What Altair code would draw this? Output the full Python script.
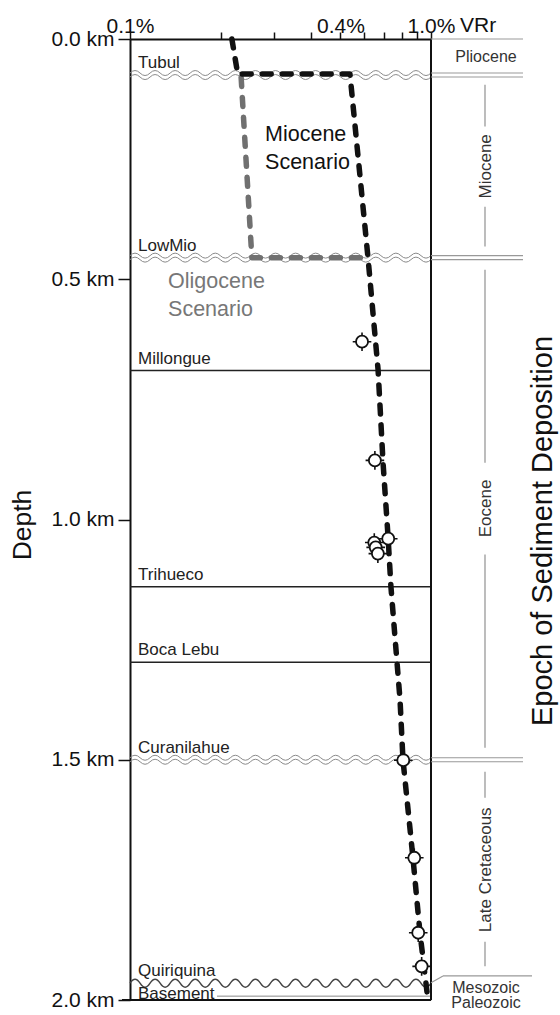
import altair as alt
import pandas as pd

# ---------------- data ----------------
x_tick_values = [0.1, 0.2, 0.3, 0.4, 0.5, 0.6, 0.7, 0.8, 0.9, 1.0]
y_tick_values = [0.0, 0.5, 1.0, 1.5, 2.0]

sample_vrr = [0.590, 0.651, 0.648, 0.655, 0.666, 0.721, 0.809, 0.880, 0.907, 0.931]
sample_depth = [0.630, 0.877, 1.048, 1.058, 1.071, 1.040, 1.501, 1.704, 1.860, 1.930]

miocene_vrr = [0.218, 0.228, 0.538, 0.618, 0.667, 0.693, 0.720, 0.736, 0.789, 0.807, 0.871, 0.919, 0.977]
miocene_depth = [0.0, 0.073, 0.073, 0.457, 0.688, 0.882, 1.036, 1.140, 1.375, 1.500, 1.704, 1.860, 2.0]

oligocene_vrr = [0.234, 0.254, 0.604]
oligocene_depth = [0.080, 0.455, 0.455]

horizon_names = ["Tubul", "LowMio", "Millongue", "Trihueco", "Boca Lebu", "Curanilahue", "Quiriquina"]
horizon_depths = [0.075, 0.455, 0.690, 1.140, 1.297, 1.500, 1.965]
horizon_kinds = ["unconformity", "unconformity", "conformity", "conformity", "conformity", "unconformity", "basal"]

basement_label = "Basement"
basement_depth = 2.0
basement_line_depth = 1.992

epoch_h_names = ["Pliocene", "Mesozoic", "Paleozoic"]
epoch_h_depths = [0.037, 1.975, 2.007]
epoch_v_names = ["Miocene", "Eocene", "Late Cretaceous"]
epoch_v_depths = [0.265, 0.977, 1.729]
epoch_seg_top = [0.095, 0.349, 0.480, 1.073, 1.525, 1.879]
epoch_seg_bottom = [0.182, 0.432, 0.882, 1.475, 1.579, 1.930]
epoch_single_depths = [0.0]
epoch_double_depths = [0.075, 0.455, 1.500]
meso_depth_start = 1.964
meso_depth_end = 1.950

scenario_text = ["Miocene", "Scenario", "Oligocene", "Scenario"]
scenario_vrr = [0.281, 0.281, 0.1338, 0.1338]
scenario_depth = [0.199, 0.258, 0.505, 0.563]
scenario_group = ["Miocene", "Miocene", "Oligocene", "Oligocene"]

# ---------------- layout / style ----------------
W, H = 301, 961
FONT = "Liberation Sans"


def wave_path(amp_px, offsets_px, period_px, half_width_px):
    u = 1.0 / half_width_px
    n = int(round(2 * half_width_px / (period_px / 2.0)))
    h = 2.0 / n
    parts = []
    for off in offsets_px:
        dy = off * u
        a = amp_px * u
        s = "M-1,%.4f Q%.4f,%.4f %.4f,%.4f" % (dy, -1 + h / 2, dy - 2 * a, -1 + h, dy)
        for k in range(2, n + 1):
            s += " T%.4f,%.4f" % (-1 + k * h, dy)
        parts.append(s)
    return " ".join(parts)


double_wave = wave_path(2.5, [-2.0, 2.0], 20, W / 2.0)
single_wave = wave_path(4.0, [0.0], 20, W / 2.0)
target_ticks = "M0,-1.55L0,-1 M0,1L0,1.55 M-1.55,0L-1,0 M1,0L1.55,0"

xscale = alt.Scale(type="log", domain=[0.1, 1.0], nice=False)
yscale = alt.Scale(domain=[0, 2], reverse=True, nice=False, zero=False)

xaxis = alt.Axis(
    orient="top", values=x_tick_values, title=None, grid=False,
    labelExpr="datum.value == 0.1 ? '0.1%' : datum.value == 0.5 ? '0.4%' : datum.value == 1 ? '1.0%' : ''",
    labelFlush=False, labelOverlap=False, tickSize=7, tickWidth=1.5, tickColor="#111",
    domainColor="#111", domainWidth=2, labelFont=FONT, labelFontSize=21, labelColor="#111",
    labelPadding=0, labelBaseline="alphabetic",
)
yaxis = alt.Axis(
    orient="left", values=y_tick_values, title=None, grid=False,
    labelExpr="format(datum.value, '.1f') + ' km'", labelFlush=False, labelOverlap=False,
    tickSize=12, tickWidth=1.5, tickColor="#111", domainColor="#111", domainWidth=2,
    labelFont=FONT, labelFontSize=21, labelColor="#111", labelPadding=4,
)

X = alt.X("vrr:Q", scale=xscale, axis=xaxis)
Y = alt.Y("depth:Q", scale=yscale, axis=yaxis)
Y2 = alt.Y2("depth2:Q")

# ---------------- tables ----------------
hz = pd.DataFrame({"name": horizon_names, "depth": horizon_depths, "kind": horizon_kinds})
samples = pd.DataFrame({"vrr": sample_vrr, "depth": sample_depth})
mio = pd.DataFrame({"vrr": miocene_vrr, "depth": miocene_depth, "order": range(len(miocene_vrr))})
oli = pd.DataFrame({"vrr": oligocene_vrr, "depth": oligocene_depth, "order": range(len(oligocene_vrr))})
eh = pd.DataFrame({"name": epoch_h_names, "depth": epoch_h_depths})
ev = pd.DataFrame({"name": epoch_v_names, "depth": epoch_v_depths})
eseg = pd.DataFrame({"depth": epoch_seg_top, "depth2": epoch_seg_bottom})
esingle = pd.DataFrame({"depth": epoch_single_depths})
edouble = pd.DataFrame({"depth": epoch_double_depths})
meso = pd.DataFrame({"depth": [meso_depth_start], "depth2": [meso_depth_end]})
meso_h = pd.DataFrame({"depth": [meso_depth_end]})
scen = pd.DataFrame({"text": scenario_text, "vrr": scenario_vrr, "depth": scenario_depth, "grp": scenario_group})
base_lbl = pd.DataFrame({"name": [basement_label], "depth": [basement_depth]})
base_line = pd.DataFrame({"depth": [basement_line_depth]})
frame = pd.DataFrame({"k": [0]})

layers = []

# formation conformity lines
layers.append(alt.Chart(hz).transform_filter("datum.kind == 'conformity'").mark_rule(
    color="#222", strokeWidth=1.6).encode(y=Y, x=alt.value(0), x2=alt.value(W)))
# unconformities: double wavy
layers.append(alt.Chart(hz).transform_filter("datum.kind == 'unconformity'").mark_point(
    shape=double_wave, size=W * W, filled=False, color="#8a8a8a", strokeWidth=1, opacity=1
).encode(y=Y, x=alt.value(W / 2.0)))
# basal unconformity
layers.append(alt.Chart(hz).transform_filter("datum.kind == 'basal'").mark_point(
    shape=single_wave, size=W * W, filled=False, color="#444", strokeWidth=1.4, opacity=1
).encode(y=Y, x=alt.value(W / 2.0)))
# basement thin line
layers.append(alt.Chart(base_line).mark_rule(color="#888", strokeWidth=1).encode(
    y=Y, x=alt.value(87), x2=alt.value(W)))

# plot frame (right and bottom edges)
layers.append(alt.Chart(frame).mark_rule(color="#111", strokeWidth=2).encode(
    x=alt.value(W), y=alt.value(0), y2=alt.value(H)))
layers.append(alt.Chart(frame).mark_rule(color="#111", strokeWidth=2).encode(
    x=alt.value(-8), x2=alt.value(W), y=alt.value(H)))

# epoch column lines
layers.append(alt.Chart(esingle).mark_rule(color="#999", strokeWidth=1.2).encode(
    y=Y, x=alt.value(W), x2=alt.value(W + 92)))
for off in (-2, 2):
    layers.append(alt.Chart(edouble).mark_rule(color="#999", strokeWidth=1.1, yOffset=off).encode(
        y=Y, x=alt.value(W), x2=alt.value(W + 92)))
layers.append(alt.Chart(eseg).mark_rule(color="#999", strokeWidth=1.3).encode(
    y=Y, y2=Y2, x=alt.value(W + 54)))
layers.append(alt.Chart(meso).mark_rule(color="#999", strokeWidth=1.2).encode(
    y=Y, y2=Y2, x=alt.value(W), x2=alt.value(W + 12)))
layers.append(alt.Chart(meso_h).mark_rule(color="#999", strokeWidth=1.2).encode(
    y=Y, x=alt.value(W + 12), x2=alt.value(W + 101)))

# epoch labels
layers.append(alt.Chart(eh).mark_text(font=FONT, fontSize=16, color="#333", align="center",
                                      baseline="middle").encode(
    y=Y, x=alt.value(W + 55), text="name:N"))
layers.append(alt.Chart(ev).mark_text(font=FONT, fontSize=17, color="#333", align="center",
                                      baseline="middle", angle=270).encode(
    y=Y, x=alt.value(W + 55), text="name:N"))

# formation labels
layers.append(alt.Chart(hz).mark_text(font=FONT, fontSize=17, color="#222", align="left",
                                      baseline="alphabetic", dy=-7).encode(
    y=Y, x=alt.value(8), text="name:N"))
layers.append(alt.Chart(base_lbl).mark_text(font=FONT, fontSize=17, color="#222", align="left",
                                            baseline="alphabetic", dy=-1).encode(
    y=Y, x=alt.value(8), text="name:N"))

# scenarios
layers.append(alt.Chart(oli).mark_line(color="#707070", strokeWidth=5.5, strokeDash=[9, 11],
                                       strokeCap="round", strokeJoin="round").encode(
    x=X, y=Y, order="order:Q"))
layers.append(alt.Chart(mio).mark_line(color="#111", strokeWidth=5.5, strokeDash=[9, 11],
                                       strokeCap="round", strokeJoin="round").encode(
    x=X, y=Y, order="order:Q"))

# samples
layers.append(alt.Chart(samples).mark_point(shape=target_ticks, size=144, filled=False,
                                            color="#111", strokeWidth=1.6, opacity=1).encode(x=X, y=Y))
layers.append(alt.Chart(samples).mark_point(shape="circle", size=144, filled=True, fill="white",
                                            stroke="#111", strokeWidth=1.8, opacity=1).encode(x=X, y=Y))

# scenario labels
layers.append(alt.Chart(scen).mark_text(font=FONT, fontSize=21.5, align="left", baseline="middle").encode(
    x=X, y=Y, text="text:N",
    color=alt.Color("grp:N", scale=alt.Scale(domain=["Miocene", "Oligocene"], range=["#111", "#777"]),
                    legend=None)))

# titles
one = pd.DataFrame({"t": ["Depth"]})
layers.append(alt.Chart(one).mark_text(font=FONT, fontSize=26.5, color="#111", angle=270,
                                       align="center", baseline="middle").encode(
    x=alt.value(-107), y=alt.value(486), text="t:N"))
two = pd.DataFrame({"t": ["Epoch of Sediment Deposition"]})
layers.append(alt.Chart(two).mark_text(font=FONT, fontSize=29, color="#111", angle=270,
                                       align="center", baseline="middle").encode(
    x=alt.value(W + 112), y=alt.value(492), text="t:N"))
three = pd.DataFrame({"t": ["VRr"]})
layers.append(alt.Chart(three).mark_text(font=FONT, fontSize=21, color="#111", align="left",
                                         baseline="alphabetic").encode(
    x=alt.value(W + 29), y=alt.value(-7), text="t:N"))

chart = alt.layer(*layers).properties(
    width=W, height=H,
    autosize=alt.AutoSizeParams(type="none"),
    padding={"left": 130, "top": 39, "right": 129, "bottom": 15},
).configure_view(stroke="#111", strokeWidth=2).configure(font=FONT, background="white")

chart.save("out.html", embed_options={"renderer": "svg", "actions": False})
